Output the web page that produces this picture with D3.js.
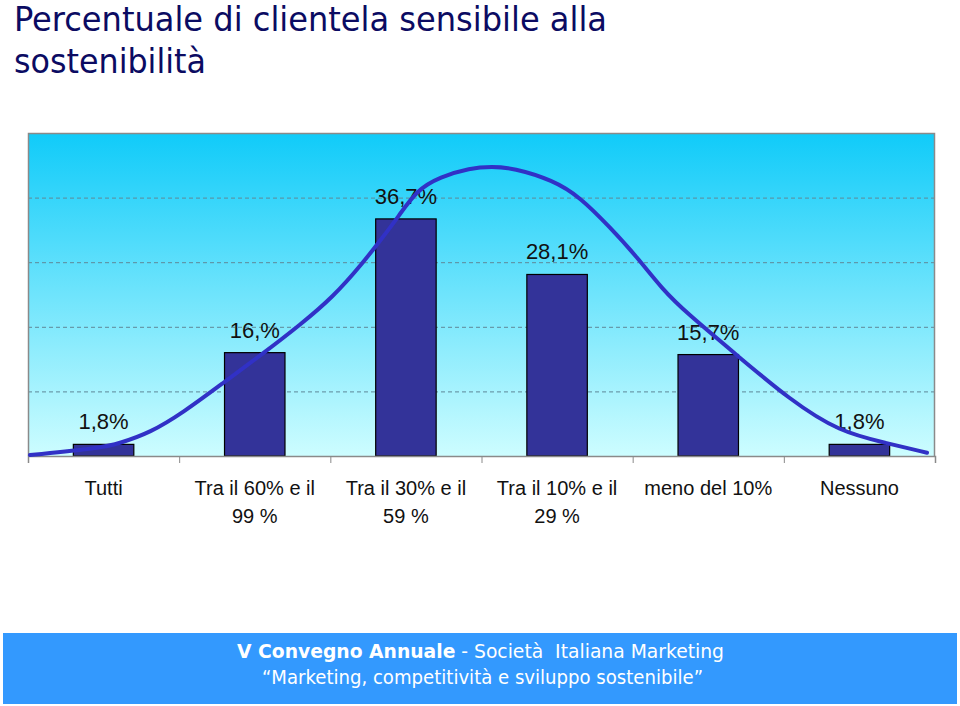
<!DOCTYPE html>
<html>
<head>
<meta charset="utf-8">
<script src="https://cdn.jsdelivr.net/npm/d3@7"></script>
<style>
  body { margin: 0; background: #fff; }
  svg { display: block; }
</style>
</head>
<body>
<div id="chart"></div>
<script>
const FRAME_WIDTH = 960;
const FRAME_HEIGHT = 706;
const PLOT = {left: 28, right: 935, top: 133, bottom: 456};

// data
const categories = [["Tutti"], ["Tra il 60% e il", "99 %"], ["Tra il 30% e il", "59 %"],
                    ["Tra il 10% e il", "29 %"], ["meno del 10%"], ["Nessuno"]];
const values = [1.8, 16.0, 36.7, 28.1, 15.7, 1.8];
const valueLabels = ["1,8%", "16,%", "36,7%", "28,1%", "15,7%", "1,8%"];
const gridTicks = [10, 20, 30, 40];

// smoothed trend line (x in category units 0..6, y in %)
const curveX = [0.013, 0.476, 0.609, 0.807, 1.025, 1.29, 1.568, 1.8, 2.018, 2.216, 2.348, 2.448,
                2.573, 2.725, 2.924, 3.07, 3.208, 3.473, 3.651, 3.85, 4.029, 4.2, 4.359, 4.69,
                5.04, 5.37, 5.68, 5.947];
const curveY = [0.15, 1.2, 2.0, 3.6, 6.7, 11.3, 16.1, 20.3, 24.6, 29.9, 33.9, 37.0,
                41.2, 43.2, 44.6, 44.8, 44.6, 42.7, 40.1, 35.4, 30.8, 25.7, 22.1, 15.6,
                8.7, 3.7, 2.0, 0.5];

const svg = d3.select("#chart").append("svg")
  .attr("width", FRAME_WIDTH)
  .attr("height", FRAME_HEIGHT);

const defs = svg.append("defs");
const grad = defs.append("linearGradient")
  .attr("id", "bg").attr("x1", 0).attr("y1", 0).attr("x2", 0).attr("y2", 1);
grad.append("stop").attr("offset", "0%").attr("stop-color", "#10cbf9");
grad.append("stop").attr("offset", "100%").attr("stop-color", "#cdfdff");

// title
const title = svg.append("g")
  .attr("font-family", "'Liberation Sans Narrow', 'DejaVu Sans Condensed', sans-serif")
  .attr("font-size", 34)
  .attr("fill", "#0b0b62");
title.append("text").attr("x", 14).attr("y", 31)
  .attr("textLength", 593).attr("lengthAdjust", "spacingAndGlyphs")
  .text("Percentuale di clientela sensibile alla");
title.append("text").attr("x", 14).attr("y", 73)
  .attr("textLength", 192).attr("lengthAdjust", "spacingAndGlyphs")
  .text("sostenibilità");

const X_BAND = d3.scaleBand()
  .domain(d3.range(categories.length))
  .range([PLOT.left, PLOT.right])
  .paddingInner(0).paddingOuter(0);

const X_CONT = d3.scaleLinear().domain([0, categories.length]).range([PLOT.left, PLOT.right]);

const Y_SCALE = d3.scaleLinear().domain([0, 50]).range([PLOT.bottom, PLOT.top]);

// plot background
svg.append("rect")
  .attr("x", PLOT.left).attr("y", PLOT.top)
  .attr("width", PLOT.right - PLOT.left).attr("height", PLOT.bottom - PLOT.top)
  .attr("fill", "url(#bg)");

// dashed gridlines
svg.append("g").selectAll("line")
  .data(gridTicks).enter().append("line")
  .attr("x1", PLOT.left).attr("x2", PLOT.right)
  .attr("y1", d => Y_SCALE(d) + 0.5).attr("y2", d => Y_SCALE(d) + 0.5)
  .attr("stroke", "#5f8898").attr("stroke-width", 1)
  .attr("stroke-dasharray", "4,3");

// frame
svg.append("path")
  .attr("d", `M${PLOT.left + 0.5},${PLOT.bottom}V${PLOT.top + 0.5}H${PLOT.right - 0.5}V${PLOT.bottom}`)
  .attr("fill", "none").attr("stroke", "#8a8a8a").attr("stroke-width", 1.5);

// bars
const barW = X_BAND.bandwidth() * 0.4;
svg.append("g").selectAll("rect")
  .data(values).enter().append("rect")
  .attr("x", (d, i) => X_BAND(i) + X_BAND.bandwidth() / 2 - barW / 2)
  .attr("y", d => Y_SCALE(d))
  .attr("width", barW)
  .attr("height", d => PLOT.bottom - Y_SCALE(d))
  .attr("fill", "#333399")
  .attr("stroke", "#000").attr("stroke-width", 1.2);

// x axis
const xAxis = svg.append("g")
  .attr("transform", `translate(0,${PLOT.bottom})`)
  .call(d3.axisBottom(X_CONT).tickValues(d3.range(categories.length + 1)).tickSize(7).tickFormat(""));
xAxis.select(".domain").attr("stroke", "#8a8a8a").attr("stroke-width", 1.5);
xAxis.selectAll(".tick line").attr("stroke", "#8a8a8a");

// value labels
svg.append("g").selectAll("text")
  .data(values).enter().append("text")
  .attr("x", (d, i) => X_BAND(i) + X_BAND.bandwidth() / 2)
  .attr("y", d => Y_SCALE(d) - 15)
  .attr("text-anchor", "middle")
  .attr("font-family", "'Liberation Sans', Arial, sans-serif")
  .attr("font-size", 22)
  .attr("fill", "#111")
  .text((d, i) => valueLabels[i]);

// trend curve
const line = d3.line()
  .x(d => X_CONT(d[0]))
  .y(d => Y_SCALE(d[1]))
  .curve(d3.curveBasis);
svg.append("path")
  .datum(curveX.map((x, i) => [x, curveY[i]]))
  .attr("d", line)
  .attr("fill", "none")
  .attr("stroke", "#3131c6")
  .attr("stroke-width", 4)
  .attr("stroke-linecap", "round");

// category labels
const catG = svg.append("g")
  .attr("font-family", "'Liberation Sans', Arial, sans-serif")
  .attr("font-size", 20)
  .attr("fill", "#111")
  .attr("text-anchor", "middle");
categories.forEach((lines, i) => {
  const t = catG.append("text")
    .attr("x", X_BAND(i) + X_BAND.bandwidth() / 2)
    .attr("y", 495);
  lines.forEach((s, j) => {
    t.append("tspan")
      .attr("x", X_BAND(i) + X_BAND.bandwidth() / 2)
      .attr("dy", j === 0 ? 0 : 28)
      .text(s);
  });
});

// footer banner
svg.append("rect")
  .attr("x", 3).attr("y", 633).attr("width", 954).attr("height", 71)
  .attr("fill", "#3399fe");
const foot = svg.append("g")
  .attr("font-family", "'DejaVu Sans Condensed', 'Open Sans', sans-serif")
  .attr("font-size", 20)
  .attr("fill", "#fff");
const l1 = foot.append("text").attr("x", 237).attr("y", 658)
  .attr("textLength", 487).attr("lengthAdjust", "spacingAndGlyphs");
l1.append("tspan").attr("font-weight", "bold").text("V Convegno Annuale");
l1.append("tspan").text(" - Società\u00a0 Italiana Marketing");
foot.append("text").attr("x", 262).attr("y", 684)
  .attr("textLength", 441).attr("lengthAdjust", "spacingAndGlyphs")
  .text("\u201cMarketing, competitività e sviluppo sostenibile\u201d");
</script>
</body>
</html>
